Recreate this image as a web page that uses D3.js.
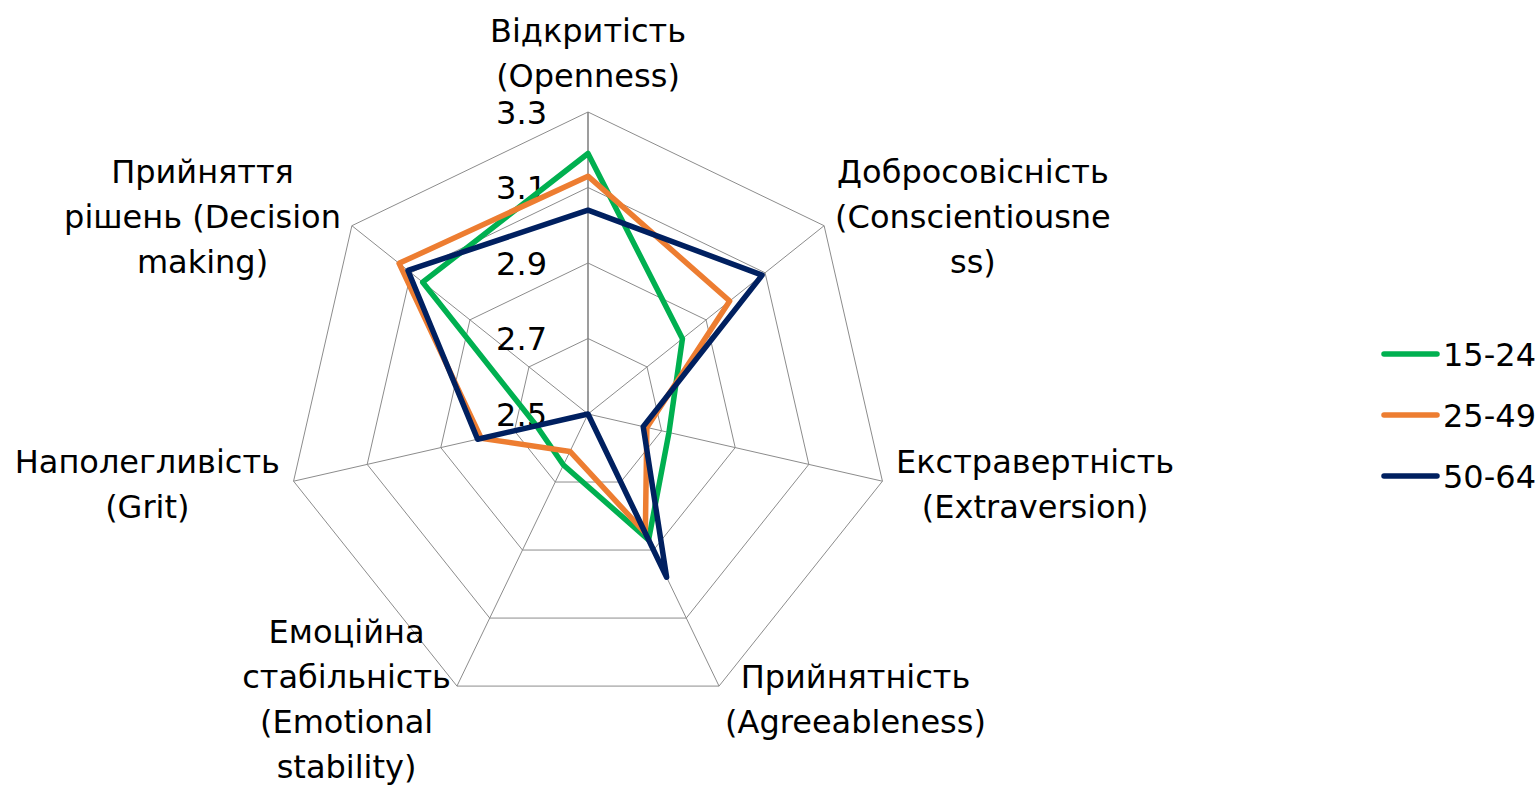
<!DOCTYPE html>
<html>
<head>
<meta charset="utf-8">
<script src="https://cdn.jsdelivr.net/npm/d3@7"></script>
<style>
  body { margin: 0; background: #fff; }
  text { font-family: "DejaVu Sans", sans-serif; fill: #000; }
</style>
</head>
<body>
<div id="chart"></div>
<script>
// axis labels, already split into lines as in the original
var categories = [
  ["Відкритість", "(Openness)"],
  ["Добросовісність", "(Conscientiousne", "ss)"],
  ["Екстравертність", "(Extraversion)"],
  ["Прийнятність", "(Agreeableness)"],
  ["Емоційна", "стабільність", "(Emotional", "stability)"],
  ["Наполегливість", "(Grit)"],
  ["Прийняття", "рішень (Decision", "making)"]
];
var seriesNames = ["15-24", "25-49", "50-64"];
var v1524 = [3.19, 2.82, 2.72, 2.87, 2.65, 2.64, 3.06];
var v2549 = [3.13, 2.98, 2.66, 2.85, 2.61, 2.79, 3.14];
var v5064 = [3.04, 3.09, 2.65, 2.98, 2.50, 2.80, 3.11];
var ticks = [2.5, 2.7, 2.9, 3.1, 3.3];
var colors = ["#00B050", "#ED7D31", "#002060"];

var W = 1540, H = 785;
var cx = 588, cy = 414, R = 302;
var fontSize = 32, lineH = 45;

var svg = d3.select("#chart").append("svg")
  .attr("width", W).attr("height", H);

var r = d3.scaleLinear().domain([2.5, 3.3]).range([0, R]);
var n = categories.length;
var angle = function(i) { return i * 2 * Math.PI / n; };
function pt(i, rad) {
  return [cx + rad * Math.sin(angle(i)), cy - rad * Math.cos(angle(i))];
}

// grid rings
var grid = svg.append("g");
ticks.slice(1).forEach(function(t) {
  var pts = d3.range(n).map(function(i) { return pt(i, r(t)); });
  grid.append("path")
    .attr("d", d3.line()(pts) + "Z")
    .attr("fill", "none")
    .attr("stroke", "#8c8c8c")
    .attr("stroke-width", 1);
});
// spokes
d3.range(n).forEach(function(i) {
  var p = pt(i, R);
  grid.append("line")
    .attr("x1", cx).attr("y1", cy).attr("x2", p[0]).attr("y2", p[1])
    .attr("stroke", i === 0 ? "#858585" : "#8c8c8c")
    .attr("stroke-width", i === 0 ? 1.6 : 1);
});

// tick labels
svg.append("g").selectAll("text")
  .data(ticks).enter().append("text")
  .attr("x", cx - 41)
  .attr("y", function(d) { return cy - r(d); })
  .attr("dy", "0.36em")
  .attr("text-anchor", "end")
  .style("font-size", fontSize + "px")
  .text(function(d) { return d3.format(".1f")(d); });

// series
var allSeries = [v1524, v2549, v5064];
var lineGen = d3.lineRadial()
  .angle(function(d, i) { return angle(i); })
  .radius(function(d) { return r(d); })
  .curve(d3.curveLinearClosed);
allSeries.forEach(function(s, k) {
  svg.append("path")
    .attr("transform", "translate(" + cx + "," + cy + ")")
    .attr("d", lineGen(s))
    .attr("fill", "none")
    .attr("stroke", colors[k])
    .attr("stroke-width", 5.5)
    .attr("stroke-linejoin", "round");
});

// axis labels
var pad = 14;
categories.forEach(function(lines, i) {
  var a = pt(i, R + pad);
  var s = Math.sin(angle(i)), c = Math.cos(angle(i));
  var g = svg.append("g");
  var texts = lines.map(function(l) {
    return g.append("text")
      .attr("text-anchor", "middle")
      .attr("dy", "0.36em")
      .style("font-size", fontSize + "px")
      .text(l);
  });
  var w = d3.max(texts, function(t) { return t.node().getComputedTextLength(); });
  var h = lines.length * lineH;
  var bx = a[0], by = a[1];
  if (s > 0.1) bx = a[0] + w / 2;
  else if (s < -0.1) bx = a[0] - w / 2;
  if (c > 0.9) by = a[1] - h / 2;
  texts.forEach(function(t, j) {
    t.attr("x", bx).attr("y", by + (j - (lines.length - 1) / 2) * lineH);
  });
});

// legend
var leg = svg.append("g");
seriesNames.forEach(function(name, k) {
  var y = 354 + k * 61;
  leg.append("line")
    .attr("x1", 1384).attr("x2", 1437).attr("y1", y).attr("y2", y)
    .attr("stroke", colors[k]).attr("stroke-width", 5.5)
    .attr("stroke-linecap", "round");
  leg.append("text")
    .attr("x", 1443).attr("y", y).attr("dy", "0.36em")
    .style("font-size", fontSize + "px")
    .text(name);
});
</script>
</body>
</html>
